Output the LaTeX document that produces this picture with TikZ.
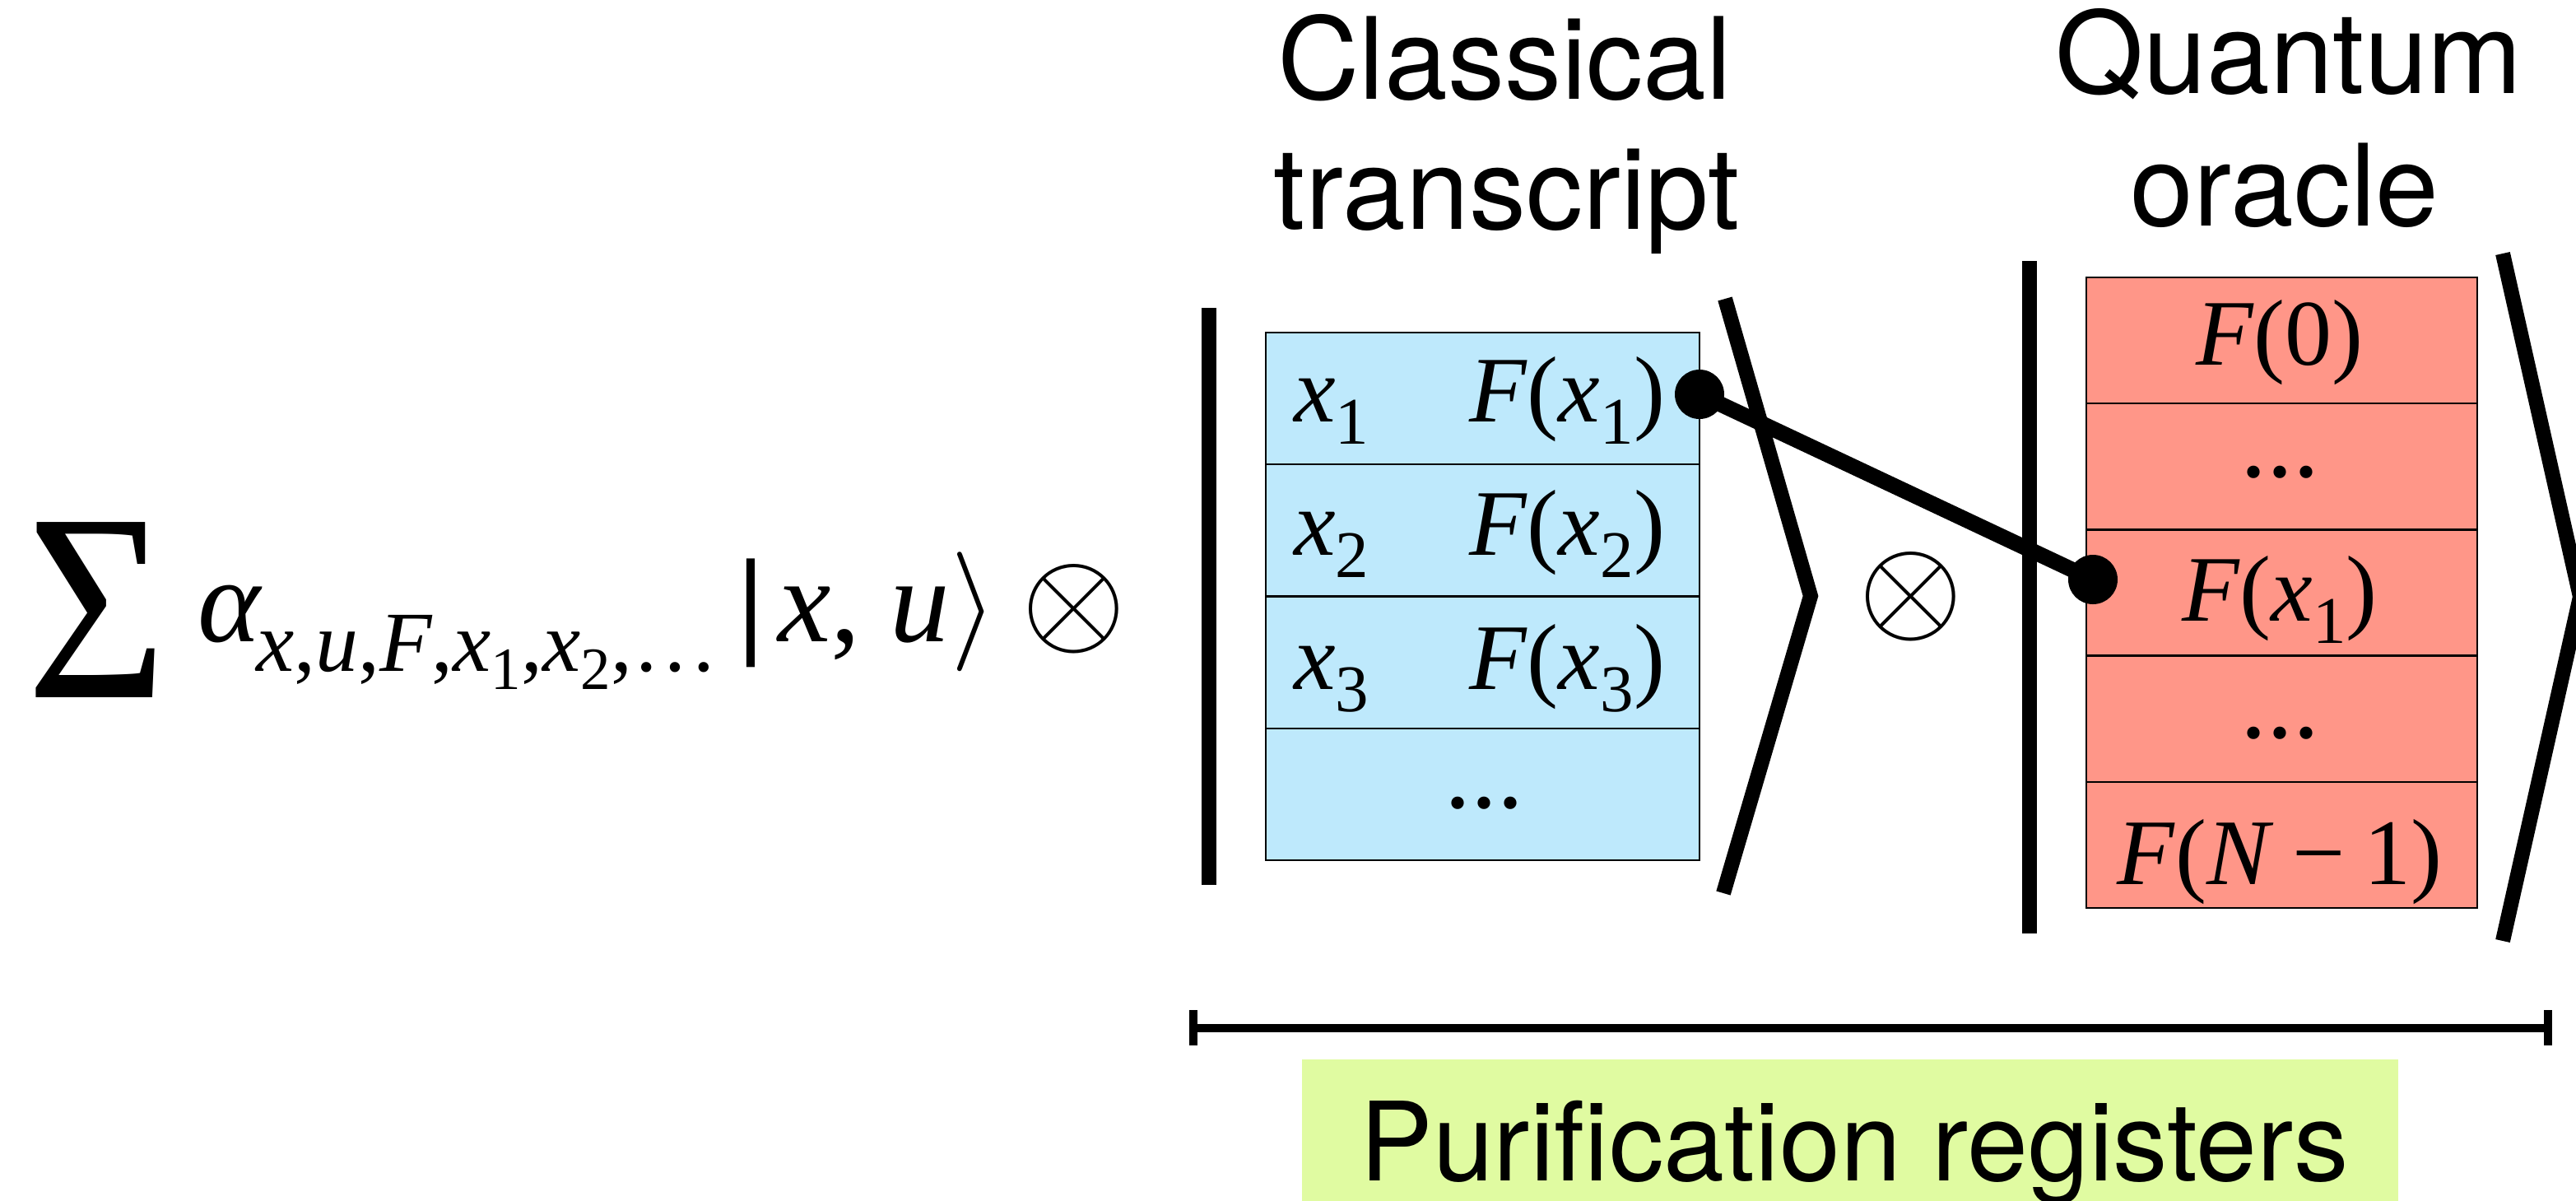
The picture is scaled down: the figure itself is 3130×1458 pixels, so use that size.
\RequirePackage{fix-cm}
\documentclass[tikz,border=0pt]{standalone}
\usepackage{amsmath}
\usepackage{graphicx}
\usepackage{fontspec}
\setmainfont{Liberation Serif}
\newfontfamily\heros{TeX Gyre Heros}
\definecolor{cellblue}{RGB}{190,233,252}
\definecolor{cellred}{RGB}{255,150,136}
\definecolor{purgreen}{RGB}{224,251,161}
\newcommand\ssd[1]{\raisebox{-5.5pt}{\fontsize{18.25}{20}\selectfont #1}}
\newcommand\sbd[1]{\raisebox{-6.75pt}{\fontsize{20.25}{22}\selectfont #1}}
\begin{document}
\begin{tikzpicture}[x=0.25pt,y=-0.25pt,
  every node/.style={inner sep=0pt, outer sep=0pt},
  bcell/.style={draw=black, line width=0.6pt, fill=cellblue, minimum width=131.75pt, minimum height=40.06pt},
  rcell/.style={draw=black, line width=0.6pt, fill=cellred, minimum width=118.75pt, minimum height=38.3pt},
  celltxt/.style={font=\fontsize{28.5}{30}\selectfont},
  dotstxt/.style={font=\fontsize{32}{34}\selectfont},
  titletxt/.style={font=\heros\fontsize{34.5}{36}\selectfont},
  kbar/.style={line width=4.5pt},
  blob/.style={circle, fill=black, minimum size=15pt},
  bigtxt/.style={font=\fontsize{36.25}{38}\selectfont},
  otx/.style={font=\fontsize{40.75}{42}\selectfont},
]
\useasboundingbox (0,0) rectangle (3130,1458);

% formula
\node[anchor=base west, font=\fontsize{81.3}{82}\selectfont] (sig) at (33,847) {\scalebox{0.9}[1]{Σ}};
\node[bigtxt, anchor=base west] (alp) at (240,779) {\textit{α}};
\node[anchor=base west, font=\fontsize{26}{28}\selectfont] (asub) at (311,815)
  {\textit{x},\textit{u},\textit{F},\textit{x}\ssd{1},\textit{x}\ssd{2},…};
\node[bigtxt, anchor=base] (kb) at (912,779) {\textbf{\textbar}};
\node[bigtxt, anchor=base west] (kxu) at (945,779) {\textit{x}, \textit{u}};
\node[bigtxt, anchor=base] (kang) at (1184,779) {$\rangle$};
\node[otx] (ot1) at (1305,740) {$\otimes$};

% titles
\node[titletxt, anchor=base] (t1a) at (1828,120) {Classical};
\node[titletxt, anchor=base] (t1b) at (1831,278) {transcript};
\node[titletxt, anchor=base] (t2a) at (2781,113) {Quantum};
\node[titletxt, anchor=base] (t2b) at (2776,274) {oracle};

% classical transcript cells
\node[bcell] (b1) at (1801.5,484.1) {};
\node[bcell] (b2) at (1801.5,644.4) {};
\node[bcell] (b3) at (1801.5,804.6) {};
\node[bcell] (b4) at (1801.5,964.9) {};
\node[celltxt, anchor=base west] (bx1) at (1572,512) {\textit{x}\sbd{1}};
\node[celltxt, anchor=base east] (bf1) at (2023,512) {\textit{F}(\textit{x}\sbd{1})};
\node[celltxt, anchor=base west] (bx2) at (1572,674) {\textit{x}\sbd{2}};
\node[celltxt, anchor=base east] (bf2) at (2023,674) {\textit{F}(\textit{x}\sbd{2})};
\node[celltxt, anchor=base west] (bx3) at (1572,837) {\textit{x}\sbd{3}};
\node[celltxt, anchor=base east] (bf3) at (2023,837) {\textit{F}(\textit{x}\sbd{3})};
\node[dotstxt, anchor=base] (bdots) at (1803,981) {...};

% quantum oracle cells
\node[rcell] (r1) at (2772.5,413.6) {};
\node[rcell] (r2) at (2772.5,566.8) {};
\node[rcell] (r3) at (2772.5,720.0) {};
\node[rcell] (r4) at (2772.5,873.2) {};
\node[rcell] (r5) at (2772.5,1026.4) {};
\node[celltxt, anchor=base] (rt1) at (2770,443) {\textit{F}(0)};
\node[dotstxt, anchor=base] (rt2) at (2770,579) {...};
\node[celltxt, anchor=base] (rt3) at (2770,754) {\textit{F}(\textit{x}\sbd{1})};
\node[dotstxt, anchor=base] (rt4) at (2770,896) {...};
\node[celltxt, anchor=base] (rt5) at (2770,1074) {\textit{F}(\textit{N}\hspace{0.2em}−\hspace{0.2em}1)};

% ket bars and angle brackets
\coordinate (cbt) at (1469,374); \coordinate (cbb) at (1469,1075);
\draw[kbar] (cbt) -- (cbb);
\coordinate (ca1) at (2096,363); \coordinate (ca2) at (2200,724); \coordinate (ca3) at (2094,1085);
\draw[kbar] (ca1) -- (ca2) -- (ca3);
\coordinate (qbt) at (2466,317); \coordinate (qbb) at (2466,1134);
\draw[kbar] (qbt) -- (qbb);
\coordinate (qa1) at (3041,308); \coordinate (qa2) at (3135,725); \coordinate (qa3) at (3041,1143);
\draw[kbar] (qa1) -- (qa2) -- (qa3);

\node[otx] (ot2) at (2321.5,724.5) {$\otimes$};

% link
\node[blob] (d1) at (2065,479) {};
\node[blob] (d2) at (2543,704) {};
\draw[line width=4.75pt] (d1.center) -- (d2.center);

% span bracket
\coordinate (bl) at (1450,1248.5); \coordinate (br) at (3096,1248.5);
\coordinate (blt) at (1450,1227); \coordinate (blb) at (1450,1270);
\coordinate (brt) at (3096,1227); \coordinate (brb) at (3096,1270);
\draw[line width=2.5pt] (bl) -- (br);
\draw[line width=2.5pt] (blt) -- (blb);
\draw[line width=2.5pt] (brt) -- (brb);

% purification label
\node[fill=purgreen, minimum width=333pt, minimum height=49.5pt] (pg) at (2248,1386) {};
\node[font=\heros\fontsize{33.25}{35}\selectfont, anchor=base] (ptxt) at (2253,1434) {Purification registers};
\end{tikzpicture}
\end{document}
